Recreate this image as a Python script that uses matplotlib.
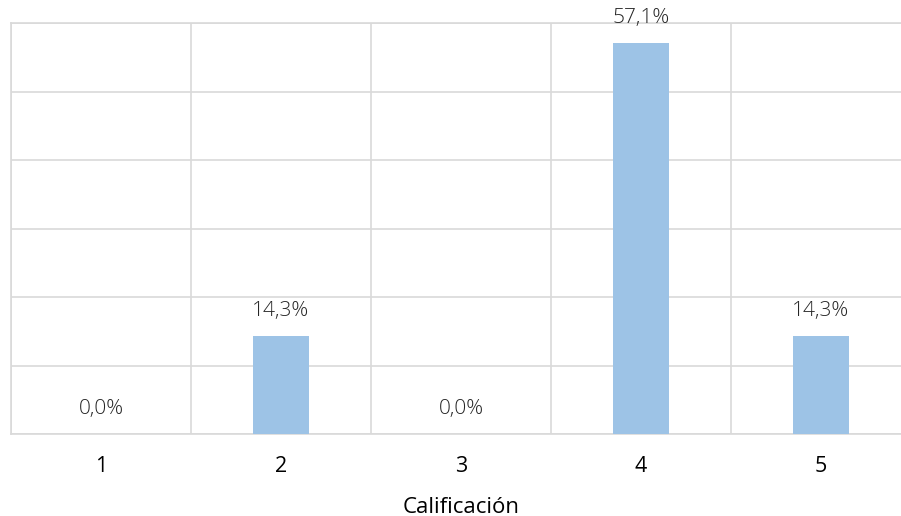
import matplotlib
matplotlib.use("Agg")
import matplotlib.pyplot as plt
import numpy as np

categories = ["1", "2", "3", "4", "5"]
values = [0.0, 14.3, 0.0, 57.1, 14.3]
labels = ["0,0%", "14,3%", "0,0%", "57,1%", "14,3%"]
xlabel = "Calificación"

plt.rcParams['font.family'] = ['Open Sans', 'DejaVu Sans']

fig = plt.figure(figsize=(9.01, 5.16), dpi=100)
W, H = 901, 516
ax = fig.add_axes([11 / W, 82 / H, 900 / W, 411 / H])

x = np.arange(len(categories))
bars = ax.bar(x, values, width=0.31, color="#9DC3E6", zorder=3)

ax.set_xlim(-0.5, len(categories) - 0.5)
ax.set_ylim(0, 60)
ax.set_yticks(np.arange(0, 61, 10))
ax.set_yticklabels([])
ax.tick_params(axis='y', length=0)
ax.set_xticks(x)
ax.set_xticklabels(categories, fontsize=15.5, color="black")
ax.tick_params(axis='x', length=0, pad=16)
ax.set_xticks(np.arange(-0.5, len(categories), 1), minor=True)
ax.tick_params(axis='x', which='minor', length=0)

ax.grid(axis='y', which='major', color="#D9D9D9", linewidth=1.2, zorder=0)
ax.grid(axis='x', which='minor', color="#D9D9D9", linewidth=1.2, zorder=0)
ax.grid(axis='x', which='major', visible=False)
for s in ax.spines.values():
    s.set_color("#D9D9D9")
    s.set_linewidth(1.2)
ax.spines['right'].set_visible(False)

for xi, v, lab in zip(x, values, labels):
    ax.annotate(lab, (xi, v), xytext=(0, 18), textcoords='offset points',
                ha='center', va='center', fontsize=15, color="#262626",
                fontweight='light')

ax.set_xlabel(xlabel, fontsize=16, color="black", labelpad=14)

fig.savefig("out.png", dpi=100)
